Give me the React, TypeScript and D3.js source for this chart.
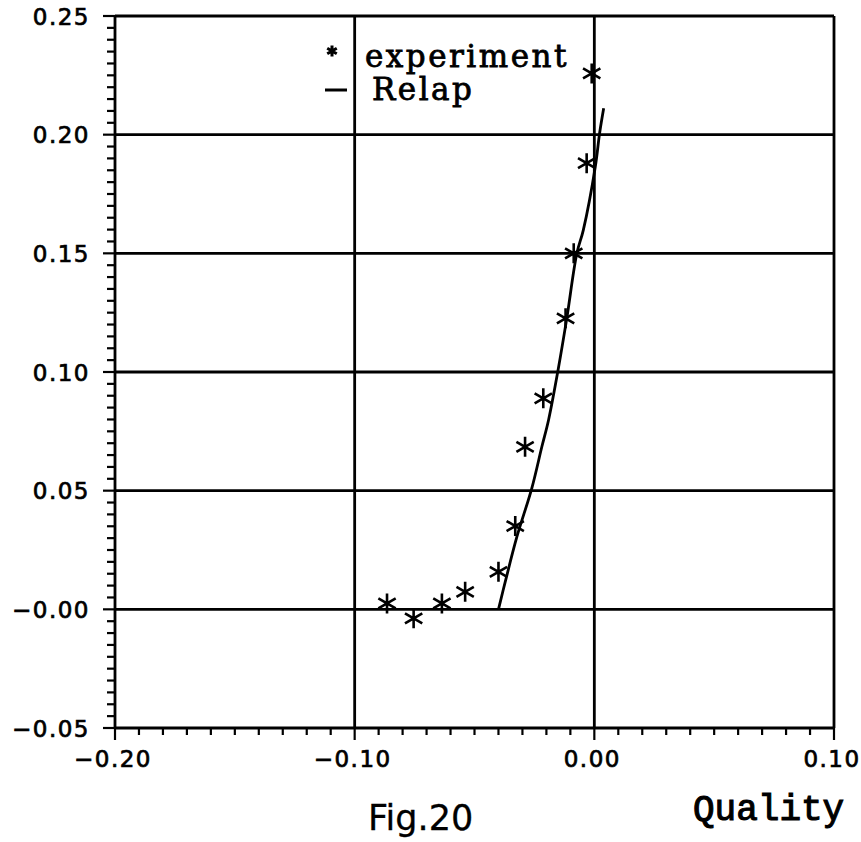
import React from "react";
import * as d3 from "d3";

// Experimental points (quality, value)
const expX = [-0.0865, -0.0754, -0.0636, -0.0539, -0.04, -0.033, -0.0289, -0.0213, -0.012, -0.0086, -0.0032, -0.0011];
const expY = [0.0025, -0.0038, 0.0025, 0.0074, 0.0158, 0.0351, 0.0685, 0.0889, 0.1226, 0.15, 0.188, 0.2258];

// Relap calculation curve
const relapX = [-0.04, -0.037, -0.0323, -0.0261, -0.0219, -0.0191, -0.015, -0.0115, -0.0073, -0.0046, 0.0004, 0.0022, 0.0039];
const relapY = [0.0, 0.0123, 0.0306, 0.051, 0.0685, 0.0798, 0.1016, 0.1226, 0.15, 0.1598, 0.1865, 0.2006, 0.2111];

const yTicks = [-0.05, 0.0, 0.05, 0.1, 0.15, 0.2, 0.25];
const yTickLabels = ["\u22120.05", "\u22120.00", "0.05", "0.10", "0.15", "0.20", "0.25"];
const xTicks = [-0.2, -0.1, 0.0, 0.1];
const xTickLabels = ["\u22120.20", "\u22120.10", "0.00", "0.10"];

const W = 861;
const H = 842;
const left = 115;
const right = 834;
const top = 16;
const bottom = 728;

export default function App() {
  const x = d3.scaleLinear().domain([-0.2, 0.1]).range([left, right]);
  const y = d3.scaleLinear().domain([-0.05, 0.25]).range([bottom, top]);

  const yMinor = d3.range(0, 61).map((i) => -0.05 + i * 0.005);
  const xMinor = d3.range(0, 31).map((i) => -0.2 + i * 0.01);

  const relapPts: [number, number][] = relapX.map((v, i) => [x(v), y(relapY[i])]);
  const line = d3.line().curve(d3.curveCatmullRom.alpha(0.5))(relapPts) || "";

  const star = (cx: number, cy: number, r: number) => {
    const parts: string[] = [];
    for (let k = 0; k < 3; k++) {
      const a = Math.PI / 2 + (k * Math.PI) / 3;
      const dx = r * Math.cos(a);
      const dy = r * Math.sin(a);
      parts.push(`M${cx - dx},${cy - dy}L${cx + dx},${cy + dy}`);
    }
    return parts.join("");
  };

  const axisFont = "'DejaVu Sans', sans-serif";
  const sw = 2.8;

  return (
    <svg
      width={W}
      height={H}
      style={{ position: "absolute", left: 0, top: 0, background: "#fff" }}
    >
      <rect x={0} y={0} width={W} height={H} fill="#fff" />
      {/* horizontal grid */}
      {yTicks.map((t) => (
        <line key={"gy" + t} x1={left} x2={right} y1={y(t)} y2={y(t)} stroke="#000" strokeWidth={sw} />
      ))}
      {/* vertical grid and frame */}
      {xTicks.map((t) => (
        <line key={"gx" + t} x1={x(t)} x2={x(t)} y1={top} y2={bottom} stroke="#000" strokeWidth={sw} />
      ))}
      {/* y ticks */}
      {yMinor.map((t, i) => (
        <line
          key={"ty" + i}
          x1={left - (i % 10 === 0 ? 12 : 8)}
          x2={left}
          y1={y(t)}
          y2={y(t)}
          stroke="#000"
          strokeWidth={2.2}
        />
      ))}
      {/* x ticks */}
      {xMinor.map((t, i) => (
        <line
          key={"tx" + i}
          x1={x(t)}
          x2={x(t)}
          y1={bottom}
          y2={bottom + (i % 10 === 0 ? 12 : 7)}
          stroke="#000"
          strokeWidth={2.2}
        />
      ))}
      {/* y tick labels */}
      {yTicks.map((t, i) => (
        <text
          key={"ly" + t}
          x={90}
          y={y(t) + 8.5}
          textAnchor="end"
          fontFamily={axisFont}
          fontSize={23}
          letterSpacing={1.5}
          fill="#000"
          stroke="#000"
          strokeWidth={0.7}
        >
          {yTickLabels[i]}
        </text>
      ))}
      {/* x tick labels */}
      {xTicks.map((t, i) => (
        <text
          key={"lx" + t}
          x={x(t) - 2}
          y={767}
          textAnchor="middle"
          fontFamily={axisFont}
          fontSize={23}
          letterSpacing={1.5}
          fill="#000"
          stroke="#000"
          strokeWidth={0.7}
        >
          {xTickLabels[i]}
        </text>
      ))}
      {/* Relap curve */}
      <path d={line} fill="none" stroke="#000" strokeWidth={2.8} />
      {/* experiment markers */}
      {expX.map((v, i) => (
        <path
          key={"e" + i}
          d={star(x(v), y(expY[i]), 10)}
          stroke="#000"
          strokeWidth={2.6}
          fill="none"
        />
      ))}
      {/* legend */}
      <path d={star(332, 51, 5.5)} stroke="#000" strokeWidth={3} fill="none" />
      <text
        x={365}
        y={67}
        fontFamily="'DejaVu Serif', serif"
        fontSize={31}
        letterSpacing={2.5}
        fill="#000"
        stroke="#000"
        strokeWidth={0.8}
      >
        experiment
      </text>
      <line x1={325} x2={347} y1={90} y2={90} stroke="#000" strokeWidth={3} />
      <text
        x={372}
        y={100}
        fontFamily="'DejaVu Serif', serif"
        fontSize={31}
        letterSpacing={2.5}
        fill="#000"
        stroke="#000"
        strokeWidth={0.8}
      >
        Relap
      </text>
      {/* axis title and caption */}
      <text
        x={693}
        y={820}
        fontFamily="'Liberation Mono', monospace"
        fontSize={36}
        fill="#000"
        stroke="#000"
        strokeWidth={1.1}
      >
        Quality
      </text>
      <text x={368} y={830} fontFamily={axisFont} fontSize={35} fill="#000" stroke="#000" strokeWidth={0.3}>
        Fig.20
      </text>
    </svg>
  );
}
